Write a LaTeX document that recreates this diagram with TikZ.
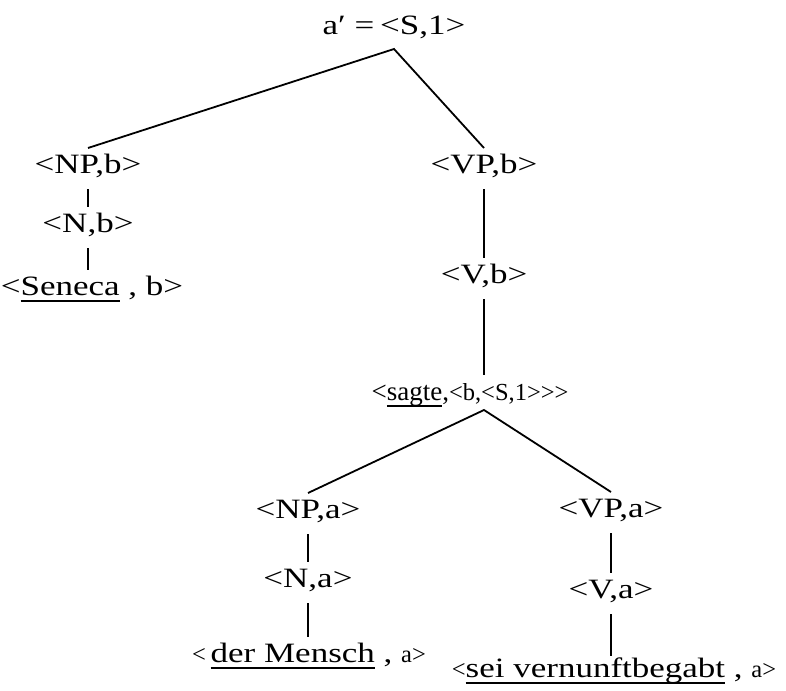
\documentclass[tikz,border=0pt]{standalone}
\usepackage{fontspec}
\setmainfont[FakeStretch=1.25]{Liberation Serif}
\newfontfamily\smallfam{Liberation Serif}
\newcommand\bigf{\fontsize{28}{32}\selectfont}
\newcommand\midf{\smallfam\fontsize{27}{31}\selectfont}
\newcommand\smf{\smallfam\fontsize{24.5}{28}\selectfont}
\newcommand\ul[1]{\setbox0\hbox{#1}\rlap{\rule[-6.5pt]{\wd0}{1.7pt}}\box0\relax}
\newcommand\gtt{>\kern0pt}
\newcommand\ltt{<\kern0pt}
\begin{document}
\begin{tikzpicture}[x=1pt,y=-1pt,
  lbl/.style={anchor=base, inner sep=0pt, outer sep=0pt, text height=25pt, text depth=16pt, font=\bigf},
  edge/.style={line width=1.8pt}]
\path[use as bounding box] (0,0) rectangle (786,690);
\node[lbl, text depth=14pt] (top) at (394,35) {a′ =\hspace{6pt}<S,1>};
\node[lbl] (npb) at (88,173) {<NP,b>};
\node[lbl] (nb) at (88,232) {<N,b>};
\node[lbl] (sen) at (92,295) {<\ul{Seneca} , b>};
\node[lbl] (vpb) at (484,173) {<VP,b>};
\node[lbl] (vb) at (484,283) {<V,b>};
\node[lbl, text depth=10pt] (sagte) at (470,400) {{\midf<\ul{sagte},}{\smf\ltt b,\ltt S,1\gtt\gtt\gtt}};
\node[lbl] (npa) at (308,518) {<NP,a>};
\node[lbl] (na) at (308,587) {<N,a>};
\node[lbl] (men) at (309,662) {{\smf<}\,\ul{der Mensch} , {\smf a>}};
\node[lbl] (vpa) at (611,517) {<VP,a>};
\node[lbl] (va) at (611,598) {<V,a>};
\node[lbl, text height=21pt] (sei) at (614,677) {{\smf<}\ul{sei vernunftbegabt} , {\smf a>}};
\draw[edge] (npb.north) -- (top.south) -- (vpb.north);
\draw[edge] (npb.south) -- (nb.north);
\draw[edge] (nb.south) -- (nb.south |- sen.north);
\draw[edge] (vpb.south) -- (vb.north);
\draw[edge] (vb.south) -- (vb.south |- sagte.north);
\draw[edge] (npa.north) -- (vb.south |- sagte.south) -- (vpa.north);
\draw[edge] (npa.south) -- (na.north);
\draw[edge] (na.south) -- (na.south |- men.north);
\draw[edge] (vpa.south) -- (va.north);
\draw[edge] (va.south) -- (va.south |- sei.north);
\end{tikzpicture}
\end{document}
